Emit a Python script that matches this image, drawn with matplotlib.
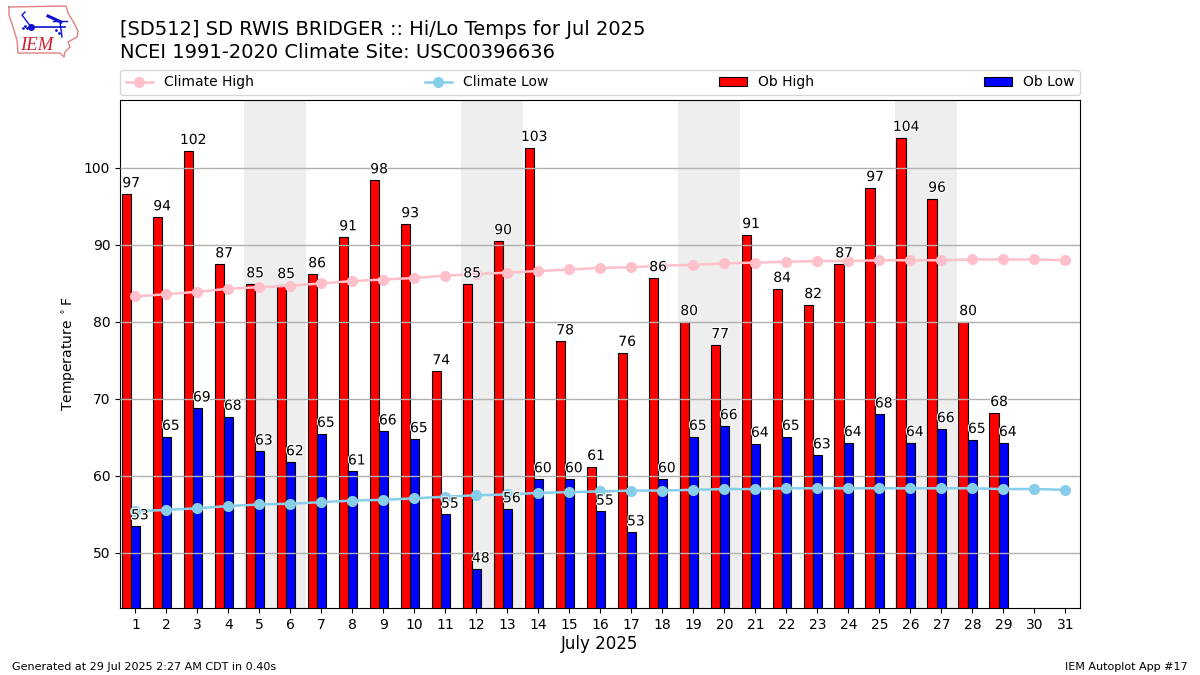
import matplotlib
matplotlib.use('Agg')
import matplotlib.pyplot as plt
import matplotlib.patheffects as pe

days = list(range(1, 32))
ob_days = list(range(1, 30))
ob_high = [96.6, 93.6, 102.2, 87.49, 84.9, 84.8, 86.2, 91.0, 98.4, 92.7,
           73.6, 84.9, 90.5, 102.6, 77.5, 61.2, 76.0, 85.7, 80.0, 77.0,
           91.3, 84.3, 82.2, 87.49, 97.4, 103.9, 96.0, 80.0, 68.2]
ob_low = [53.49, 65.1, 68.8, 67.7, 63.2, 61.8, 65.49, 60.6, 65.8, 64.8,
          55.0, 47.9, 55.7, 59.6, 59.6, 55.4, 52.7, 59.6, 65.1, 66.49,
          64.2, 65.1, 62.7, 64.3, 68.0, 64.3, 66.1, 64.7, 64.3]
climate_high = [83.3, 83.6, 83.9, 84.3, 84.5, 84.7, 85.0, 85.3, 85.5, 85.7,
                86.0, 86.2, 86.4, 86.6, 86.8, 87.0, 87.1, 87.3, 87.4, 87.6,
                87.7, 87.8, 87.9, 87.9, 88.0, 88.0, 88.0, 88.1, 88.1, 88.1, 88.0]
climate_low = [55.4, 55.6, 55.8, 56.1, 56.3, 56.4, 56.6, 56.8, 56.9, 57.1,
               57.3, 57.5, 57.6, 57.8, 57.9, 58.0, 58.1, 58.1, 58.2, 58.3,
               58.3, 58.4, 58.4, 58.4, 58.4, 58.4, 58.4, 58.4, 58.3, 58.3, 58.2]
weekends = [5, 12, 19, 26]

fig = plt.figure(figsize=(12, 6.75), dpi=100)
ax = fig.add_axes([120 / 1200, 1 - 608 / 675, 960 / 1200, 508 / 675])

# weekend shading
for d in weekends:
    ax.axvspan(d - 0.5, d + 1.5, color='#eeeeee', zorder=1, lw=0)

ax.bar([d - 0.3 for d in ob_days], ob_high, width=0.3, color='red',
       edgecolor='black', linewidth=0.8, label='Ob High', zorder=2)
ax.bar(ob_days, ob_low, width=0.3, color='blue',
       edgecolor='black', linewidth=0.8, label='Ob Low', zorder=2)
ax.plot(days, climate_high, color='pink', marker='o', markersize=7, lw=1.8,
        label='Climate High', zorder=3)
ax.plot(days, climate_low, color='skyblue', marker='o', markersize=7, lw=1.8,
        label='Climate Low', zorder=3)

halo = [pe.withStroke(linewidth=1.5, foreground='white')]
for d, v in zip(ob_days, ob_high):
    ax.text(d - 0.14, v + 0.5, f'{v:.0f}', ha='center', va='bottom', fontsize=10,
            path_effects=halo, zorder=4)
for d, v in zip(ob_days, ob_low):
    ax.text(d + 0.14, v + 0.5, f'{v:.0f}', ha='center', va='bottom', fontsize=10,
            path_effects=halo, zorder=4)

ax.set_xlim(0.5, 31.47)
ax.set_ylim(42.86, 108.8)
ax.set_xticks(days)
ax.set_yticks([50, 60, 70, 80, 90, 100])
ax.yaxis.grid(True, color='#b0b0b0', lw=1, zorder=1.5)
ax.set_axisbelow(False)
ax.set_xlabel('July 2025', fontsize=12, labelpad=2.5)
ax.set_ylabel(r'Temperature $^\circ$F', fontsize=10)

handles, labels = ax.get_legend_handles_labels()
order = [labels.index(n) for n in ['Climate High', 'Climate Low', 'Ob High', 'Ob Low']]
ax.legend([handles[i] for i in order], [labels[i] for i in order], ncol=4,
          mode='expand', loc='lower left', bbox_to_anchor=(0, 1.01, 1, 0.05),
          borderaxespad=0, fontsize=10)

fig.text(120 / 1200, 1 - 35 / 675, '[SD512] SD RWIS BRIDGER :: Hi/Lo Temps for Jul 2025',
         fontsize=14, va='baseline')
fig.text(120 / 1200, 1 - 57.5 / 675, 'NCEI 1991-2020 Climate Site: USC00396636',
         fontsize=14, va='baseline')
fig.text(12 / 1200, 1 - 670 / 675, 'Generated at 29 Jul 2025 2:27 AM CDT in 0.40s', fontsize=8)
fig.text(1188 / 1200, 1 - 670 / 675, 'IEM Autoplot App #17', fontsize=8, ha='right')

# rough logo, state outline and station model
logo = fig.add_axes([0, 1 - 64 / 675, 90 / 1200, 64 / 675])
logo.set_xlim(0, 90)
logo.set_ylim(64, 0)
logo.axis('off')
logo.plot([9, 66, 68, 74, 78, 77, 68, 70, 65, 64, 60, 18, 17, 13, 9, 9],
          [7, 6, 13, 23, 31, 37, 42, 47, 52, 57, 53, 53, 40, 27, 15, 7],
          color='#e08080', lw=1)
logo.plot([31, 65], [27, 27], color='#1010d0', lw=1.2)
logo.plot([31], [27], 'o', color='#1010d0', ms=4)
logo.plot([25, 22, 31], [12, 15, 27], color='#1010d0', lw=1)
logo.plot([48, 61], [16, 22], color='#1010d0', lw=2.2)
logo.plot([53, 67], [21, 21], color='#1010d0', lw=1)
logo.plot([60, 62], [22, 37], color='#1010d0', lw=1)
logo.plot([23, 25, 27], [28, 26, 28], '.', color='#1010d0', ms=2)
logo.plot([56, 59], [30, 33], '.', color='#1010d0', ms=2)
logo.text(37, 45, 'IEM', color='#d02030', fontsize=13.5, family='Liberation Serif',
          style='italic', ha='center', va='center')

fig.savefig('out.png', dpi=100)
